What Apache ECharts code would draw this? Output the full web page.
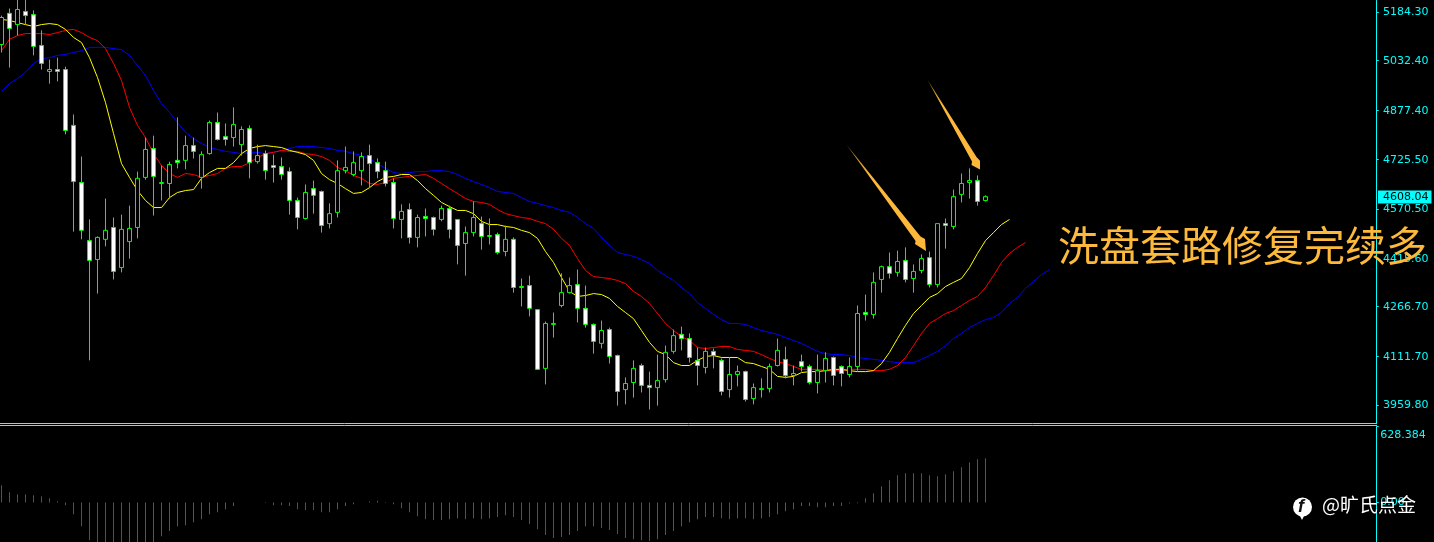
<!DOCTYPE html>
<html>
<head>
<meta charset="utf-8">
<script src="https://cdn.jsdelivr.net/npm/echarts@6/dist/echarts.min.js"></script>
<style>html,body{margin:0;padding:0;background:#000}#c{width:1434px;height:542px}</style>
</head>
<body>
<div id="c"></div>
<script>
const opens = [
5083,5180,5145,5186,5176,5080,4999,5005,5005,4831,
4653,4472,4413,4476,4513,4388,4469,4513,4669,4759,
4650,4650,4722,4722,4768,4669,4743,4840,4796,4793,
4771,4821,4718,4743,4706,4703,4687,4597,4541,4634,
4625,4525,4560,4690,4678,4690,4737,4715,4690,4653,
4538,4569,4482,4547,4544,4538,4572,4538,4463,4497,
4525,4485,4491,4438,4476,4326,4332,4257,4074,4211,
4270,4310,4335,4261,4211,4152,4195,4114,4008,4030,
4083,4021,4014,4039,4127,4180,4167,4099,4077,4127,
4099,4008,4055,4064,3980,4008,4011,4083,4102,4052,
4095,4080,4030,4067,4108,4080,4055,4080,4248,4242,
4351,4391,4373,4410,4354,4379,4419,4335,4525,4516,
4616,4653,4659,4597];
const closes = [
5167,5133,5192,5173,5077,5024,5005,4999,4815,4656,
4504,4410,4482,4504,4376,4507,4510,4666,4756,4672,
4653,4709,4715,4768,4750,4740,4840,4787,4787,4834,
4818,4715,4737,4690,4700,4678,4597,4544,4622,4613,
4519,4556,4690,4700,4715,4734,4712,4687,4650,4541,
4563,4482,4544,4541,4507,4572,4507,4457,4497,4544,
4485,4488,4435,4476,4326,4329,4261,4071,4214,4214,
4310,4332,4261,4211,4158,4192,4111,4002,4027,4074,
4021,4014,4036,4124,4176,4167,4108,4083,4127,4114,
4002,4055,4064,3977,4014,4011,4080,4130,4052,4058,
4080,4030,4067,4105,4052,4058,4080,4245,4242,4342,
4391,4370,4407,4351,4376,4416,4335,4525,4519,4609,
4650,4659,4594,4609];
const highs = [
5173,5195,5229,5229,5189,5127,5036,5042,5014,4865,
4734,4538,4485,4603,4544,4553,4581,4687,4793,4799,
4706,4718,4856,4799,4793,4750,4846,4871,4837,4887,
4828,4831,4771,4753,4740,4731,4700,4606,4647,4659,
4628,4588,4722,4765,4750,4747,4771,4728,4718,4666,
4585,4588,4553,4572,4547,4581,4581,4538,4516,4594,
4547,4541,4497,4519,4482,4354,4363,4257,4220,4248,
4370,4357,4382,4332,4214,4223,4201,4117,4046,4099,
4089,4064,4117,4145,4195,4204,4183,4139,4139,4136,
4105,4108,4083,4067,4027,4043,4089,4167,4142,4083,
4117,4086,4117,4124,4111,4083,4108,4270,4304,4373,
4394,4435,4441,4451,4398,4429,4438,4525,4541,4631,
4681,4697,4675,4613];
const lows = [
5058,5011,5111,5145,5049,5005,4961,4968,4803,4500,
4476,4099,4307,4454,4351,4373,4416,4479,4662,4550,
4597,4603,4697,4694,4728,4634,4740,4784,4768,4765,
4737,4666,4712,4662,4653,4662,4553,4507,4538,4556,
4497,4510,4544,4681,4672,4644,4637,4666,4641,4510,
4479,4463,4451,4485,4488,4532,4479,4398,4363,4485,
4444,4460,4429,4423,4310,4267,4236,4071,4024,4170,
4264,4307,4217,4201,4120,4136,4089,3958,3962,3983,
3999,3946,3958,4030,4120,4130,4092,4021,4058,4074,
3990,3983,4018,3971,3962,3983,3999,4080,4043,4021,
4064,4024,3996,4030,4021,4018,4046,4067,4223,4229,
4310,4354,4360,4342,4310,4370,4326,4326,4447,4507,
4591,4603,4581,4594];
const lips = [
5161,5158,5151,5145,5139,5145,5148,5145,5130,5105,
5089,5042,4980,4902,4806,4712,4669,4628,4597,4575,
4575,4606,4622,4628,4631,4666,4684,4697,4697,4715,
4743,4759,4765,4768,4765,4762,4753,4747,4740,4722,
4681,4662,4650,4634,4619,4622,4637,4656,4669,4672,
4678,4678,4659,4634,4613,4591,4578,4566,4566,4556,
4532,4522,4522,4516,4513,4504,4497,4479,4438,4404,
4357,4314,4298,4301,4307,4304,4292,4267,4248,4229,
4192,4155,4127,4117,4092,4083,4083,4099,4111,4114,
4108,4108,4108,4092,4089,4080,4071,4049,4046,4049,
4061,4064,4064,4067,4071,4071,4067,4064,4064,4067,
4089,4124,4167,4208,4245,4270,4295,4307,4329,4342,
4354,4388,4432,4472,4497,4522,4538];
const teeth = [
5064,5099,5111,5117,5117,5117,5114,5120,5127,5130,
5120,5105,5095,5070,5024,4971,4887,4831,4793,4743,
4706,4681,4669,4681,4678,4669,4675,4681,4697,4703,
4703,4715,4731,4743,4747,4753,4750,4750,4743,4740,
4734,4722,4700,4690,4675,4666,4650,4647,4653,4666,
4669,4672,4675,4678,4666,4650,4634,4619,4603,4594,
4591,4585,4569,4556,4550,4544,4541,4532,4525,4507,
4479,4457,4416,4379,4360,4357,4354,4348,4338,4314,
4298,4276,4245,4214,4192,4173,4161,4139,4136,4139,
4142,4142,4133,4130,4127,4117,4105,4095,4089,4080,
4071,4071,4071,4067,4067,4067,4071,4071,4071,4067,
4067,4071,4083,4108,4145,4183,4214,4229,4245,4254,
4270,4286,4298,4326,4363,4404,4432,4451,4466];
const jaw = [
4937,4961,4977,4996,5024,5039,5042,5049,5052,5058,
5064,5074,5074,5074,5070,5067,5049,5018,4986,4940,
4899,4871,4840,4809,4790,4775,4762,4756,4750,4747,
4743,4747,4747,4743,4747,4753,4759,4765,4765,4765,
4762,4759,4753,4750,4743,4737,4728,4712,4697,4684,
4681,4684,4687,4687,4690,4690,4687,4678,4666,4656,
4647,4637,4625,4622,4619,4606,4594,4588,4581,4575,
4566,4560,4544,4525,4510,4482,4457,4435,4429,4423,
4413,4401,4379,4363,4348,4326,4307,4279,4261,4242,
4226,4214,4214,4211,4201,4192,4186,4180,4170,4161,
4152,4139,4127,4120,4117,4117,4114,4108,4105,4102,
4099,4095,4092,4092,4092,4102,4114,4127,4145,4167,
4183,4201,4214,4226,4233,4248,4276,4295,4323,4345,4366,4382];
const histValues = [
144,86,69,69,61,52,36,11,-22,-97,
-196,-312,-360,-400,-420,-400,-400,-400,-380,-340,
-279,-237,-196,-188,-163,-138,-97,-80,-55,-30,
null,null,null,-5,-22,-22,-30,-55,-63,-63,
-80,-80,-55,-30,-14,null,8,14,-5,-14,
-47,-80,-113,-138,-146,-146,-138,-130,-138,-130,
-138,-130,-121,-105,-121,-146,-179,-221,-270,-295,
-287,-270,-237,-196,-196,-212,-229,-262,-295,-304,
-312,-320,-304,-270,-237,-196,-163,-138,-121,-121,
-130,-138,-130,-130,-138,-130,-121,-97,-72,-55,
-30,-30,-39,-39,-30,-30,-8,-6,36,77,
135,185,226,243,243,243,226,218,235,259,
293,334,359,367];
const histFalling = [
1,1,1,1,1,1,1,1,1,1,
1,1,1,1,1,1,0,0,0,0,
0,0,0,0,0,0,0,0,0,0,
0,0,0,1,1,1,1,1,1,1,
1,1,0,0,0,0,0,0,1,1,
1,1,1,1,1,0,0,0,1,0,
1,0,0,0,1,1,1,1,1,1,
0,0,0,0,0,1,1,1,1,1,
1,1,0,0,0,0,0,0,0,0,
1,1,0,1,1,0,0,0,0,0,
0,0,1,0,0,1,0,0,0,0,
0,0,0,0,0,1,1,1,0,0,
0,0,0,0];
const priceTicks = [3959.8,4111.7,4266.7,4415.6,4570.5,4608.04,4725.5,4877.4,5032.4,5184.3];
const lastPrice = 4608.04;
const oscTicks = [0,628.384];
const slotCount = 172;
const categories = Array.from({length: slotCount}, (_, i) => String(i));
const annotationText = '洗盘套路修复完续多';
const watermarkText = '@旷氏点金';

const CYAN = '#00ffff';
const AXIS_FONT = '"DejaVu Sans"';
const candles = opens.map((o, i) => [o, closes[i], lows[i], highs[i]]);
const hist = histValues.map((v, i) => v === null ? null : ({
  value: v, itemStyle: {color: histFalling[i] ? '#e81010' : '#0a8a0a'}
}));
function arrow(points, tail, tip) {
  return {
    type: 'polygon', z: 100, silent: true,
    shape: {points},
    style: {fill: {type: 'linear', global: true, x: tail[0], y: tail[1], x2: tip[0], y2: tip[1],
      colorStops: [{offset: 0, color: '#5a4010'}, {offset: 0.12, color: '#c08a28'}, {offset: 0.3, color: '#fdb83c'}, {offset: 1, color: '#fdb83c'}]}}
  };
}
const chart = echarts.init(document.getElementById('c'), null, {renderer: 'canvas'});
chart.setOption({
  animation: false,
  backgroundColor: '#000',
  grid: [
    {left: -2.5, top: 0.5, width: 1376, height: 423.3, outerBoundsMode: 'none'},
    {left: -2.5, top: 426.7, width: 1376, height: 115.3, outerBoundsMode: 'none'}
  ],
  xAxis: [
    {type: 'category', data: categories, gridIndex: 0, show: false, boundaryGap: true},
    {type: 'category', data: categories, gridIndex: 1, show: false, boundaryGap: true}
  ],
  yAxis: [
    {type: 'value', gridIndex: 0, position: 'right', offset: 3.2, min: 3901.4, max: 5220, scale: true,
      splitLine: {show: false},
      axisLine: {show: true, onZero: false, lineStyle: {color: CYAN, width: 1}},
      axisTick: {show: true, length: 2, lineStyle: {color: CYAN}, customValues: priceTicks.filter(v => v !== lastPrice)},
      axisLabel: {show: true, margin: 1.3, customValues: priceTicks, hideOverlap: false,
        formatter: v => v === lastPrice ? '{b|' + v.toFixed(2) + '}' : '{n|' + v.toFixed(2) + '}',
        rich: {
          n: {color: CYAN, fontFamily: AXIS_FONT, fontSize: 11, padding: [1, 0, 0, 5]},
          b: {color: '#000', backgroundColor: CYAN, fontFamily: AXIS_FONT, fontSize: 11, padding: [1, 3, 1, 5], lineHeight: 11}
        }}},
    {type: 'value', gridIndex: 1, position: 'right', offset: 3.2, min: -327.45, max: 628.384,
      splitLine: {show: false},
      axisLine: {show: true, onZero: false, lineStyle: {color: CYAN, width: 1}},
      axisTick: {show: true, length: 2, lineStyle: {color: CYAN}, customValues: oscTicks},
      axisLabel: {show: true, margin: 3.5, customValues: oscTicks,
        verticalAlignMaxLabel: 'top', showMaxLabel: true,
        formatter: v => v === 0 ? '{z|0.00}' : '{t|' + v.toFixed(3) + '}',
        rich: {
          z: {color: CYAN, fontFamily: AXIS_FONT, fontSize: 11},
          t: {color: CYAN, fontFamily: AXIS_FONT, fontSize: 11, padding: [3, 0, 0, 0]}
        }}}
  ],
  series: [
    {type: 'line', name: 'jaw', data: jaw, xAxisIndex: 0, yAxisIndex: 0, showSymbol: false, z: 2,
      lineStyle: {color: '#0000ff', width: 1}},
    {type: 'line', name: 'teeth', data: teeth, xAxisIndex: 0, yAxisIndex: 0, showSymbol: false, z: 2,
      lineStyle: {color: '#ff0000', width: 1}},
    {type: 'line', name: 'lips', data: lips, xAxisIndex: 0, yAxisIndex: 0, showSymbol: false, z: 2,
      lineStyle: {color: '#ffff00', width: 1}},
    {type: 'candlestick', name: 'price', data: candles, xAxisIndex: 0, yAxisIndex: 0, z: 3, barWidth: 4,
      itemStyle: {color: '#000000', color0: '#ffffff', borderColor: '#00ff00', borderColor0: '#00ff00', borderWidth: 1}},
    {type: 'bar', name: 'osc', data: hist, xAxisIndex: 1, yAxisIndex: 1, barWidth: 1}
  ],
  graphic: [
    {type: 'line', z: 100, silent: true, shape: {x1: 0, y1: 423.5, x2: 1377, y2: 423.5}, style: {stroke: '#48f0f0', lineWidth: 1}},
    {type: 'line', z: 100, silent: true, shape: {x1: 0, y1: 425.5, x2: 1377, y2: 425.5}, style: {stroke: '#48f0f0', lineWidth: 1}},
    arrow([[846,144],[920.5,236.5],[925,239],[926,251],[915,244],[915.6,241]], [846,144], [926,251]),
    arrow([[927,79],[976.5,157],[980,160.7],[980,169.5],[971.5,165],[972,161.5]], [927,79], [980,169.5]),
    {type: 'text', z: 100, silent: true, x: 1058, y: 245,
      style: {text: annotationText, fill: '#fcb93b', fontFamily: '"Noto Sans CJK SC"', fontSize: 41, verticalAlign: 'middle'}},
    {type: 'circle', z: 100, silent: true, shape: {cx: 1302.5, cy: 507, r: 9.5}, style: {fill: '#ffffff'}},
    {type: 'polygon', z: 100, silent: true, shape: {points: [[1299,514],[1302,520],[1305,514]]}, style: {fill: '#ffffff'}},
    {type: 'text', z: 101, silent: true, x: 1298, y: 507.5,
      style: {text: 'f', fill: '#111', fontFamily: '"Liberation Sans"', fontWeight: 'bold', fontStyle: 'italic', fontSize: 18, verticalAlign: 'middle'}},
    {type: 'text', z: 100, silent: true, x: 1322, y: 505,
      style: {text: watermarkText, fill: '#ffffff', fontFamily: '"Noto Sans CJK SC"', fontSize: 19, verticalAlign: 'middle'}}
  ]
});
</script>
</body>
</html>
